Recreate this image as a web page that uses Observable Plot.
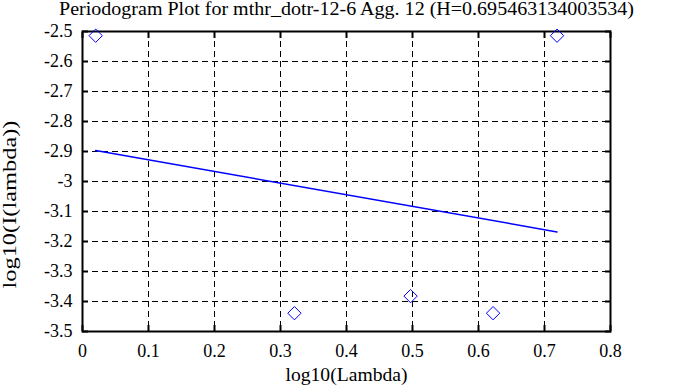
<!DOCTYPE html>
<html><head><meta charset="utf-8">
<script src="https://cdn.jsdelivr.net/npm/d3@7"></script>
<script src="https://cdn.jsdelivr.net/npm/@observablehq/plot@0.6"></script>
<style>body{margin:0;background:#fff;} svg{display:block;} svg text{font-family:"Liberation Serif",serif !important;font-variant:normal !important;}</style>
</head><body><div id="chart"></div>
<script>
const title = "Periodogram Plot for mthr_dotr-12-6 Agg. 12 (H=0.695463134003534)";
const xLabel = "log10(Lambda)";
const yLabel = "log10(I(lambda))";
const logLambda = [0.0200, 0.3211, 0.4971, 0.6221, 0.7190];
const logI = [-2.514, -3.439, -3.382, -3.439, -2.514];
const fitX = [0.0200, 0.7190];
const fitY = [-2.897, -3.168];
const xTicks = [0, 0.1, 0.2, 0.3, 0.4, 0.5, 0.6, 0.7, 0.8];
const yTicks = [-3.5, -3.4, -3.3, -3.2, -3.1, -3, -2.9, -2.8, -2.7, -2.6, -2.5];

const pts = logLambda.map((x, i) => ({x, y: logI[i]}));
const fit = fitX.map((x, i) => ({x, y: fitY[i]}));
const ff = "Liberation Serif";
const fs = 18;

const chart = Plot.plot({
  width: 678, height: 387,
  marginLeft: 82, marginRight: 68, marginTop: 31, marginBottom: 56,
  style: {fontSize: fs + "px", fontFamily: ff, color: "#000", background: "#fff"},
  x: {domain: [0, 0.8], axis: null},
  y: {domain: [-3.5, -2.5], axis: null},
  marks: [
    Plot.gridX(xTicks, {stroke: "#000", strokeOpacity: 1, strokeDasharray: "6,4"}),
    Plot.gridY(yTicks, {stroke: "#000", strokeOpacity: 1, strokeDasharray: "6,4"}),
    Plot.text(xTicks, {x: d => d, text: d => String(d), frameAnchor: "bottom", lineAnchor: "bottom", dy: 25, fontSize: fs, fontFamily: ff}),
    Plot.text(yTicks, {y: d => d, text: d => String(d), frameAnchor: "left", textAnchor: "end", lineAnchor: "middle", dx: -10, fontSize: fs, fontFamily: ff}),
    Plot.axisX(xTicks, {anchor: "bottom", tickSize: -6, strokeWidth: 2, text: null, label: null}),
    Plot.axisX(xTicks, {anchor: "top", tickSize: -6, strokeWidth: 2, text: null, label: null}),
    Plot.axisY(yTicks, {anchor: "left", tickSize: -6, strokeWidth: 2, text: null, label: null}),
    Plot.axisY(yTicks, {anchor: "right", tickSize: -6, strokeWidth: 2, text: null, label: null}),
    Plot.frame({stroke: "#000", strokeWidth: 2}),
    Plot.line(fit, {x: "x", y: "y", stroke: "#0000ff", strokeWidth: 1.5}),
    Plot.dot(pts, {x: "x", y: "y", symbol: "diamond2", r: 6, stroke: "#0000ff", strokeWidth: 1, fill: "none"}),
    Plot.text([title], {frameAnchor: "top", dy: -16.5, text: d => d, fontSize: fs, fontFamily: ff, lineAnchor: "bottom"}),
    Plot.text([xLabel], {frameAnchor: "bottom", dy: 49, text: d => d, fontSize: fs, fontFamily: ff, lineAnchor: "bottom"}),
    Plot.text([yLabel], {frameAnchor: "left", dx: -67, dy: 23, text: d => d, fontSize: fs, fontFamily: ff, lineAnchor: "bottom", rotate: -90})
  ]
});
// stretch the label texts to the wider face used by the reference (anchored from their start)
const widths = new Map([[title, 575], [xLabel, 122], [yLabel, 168]]);
d3.select(chart).selectAll("text").each(function() {
  const w = widths.get(this.textContent);
  if (w) {
    this.setAttribute("text-anchor", "start");
    this.setAttribute("x", -w / 2);
    this.setAttribute("textLength", w);
    this.setAttribute("lengthAdjust", "spacingAndGlyphs");
  }
});
document.getElementById("chart").appendChild(chart);
</script>
</body></html>
